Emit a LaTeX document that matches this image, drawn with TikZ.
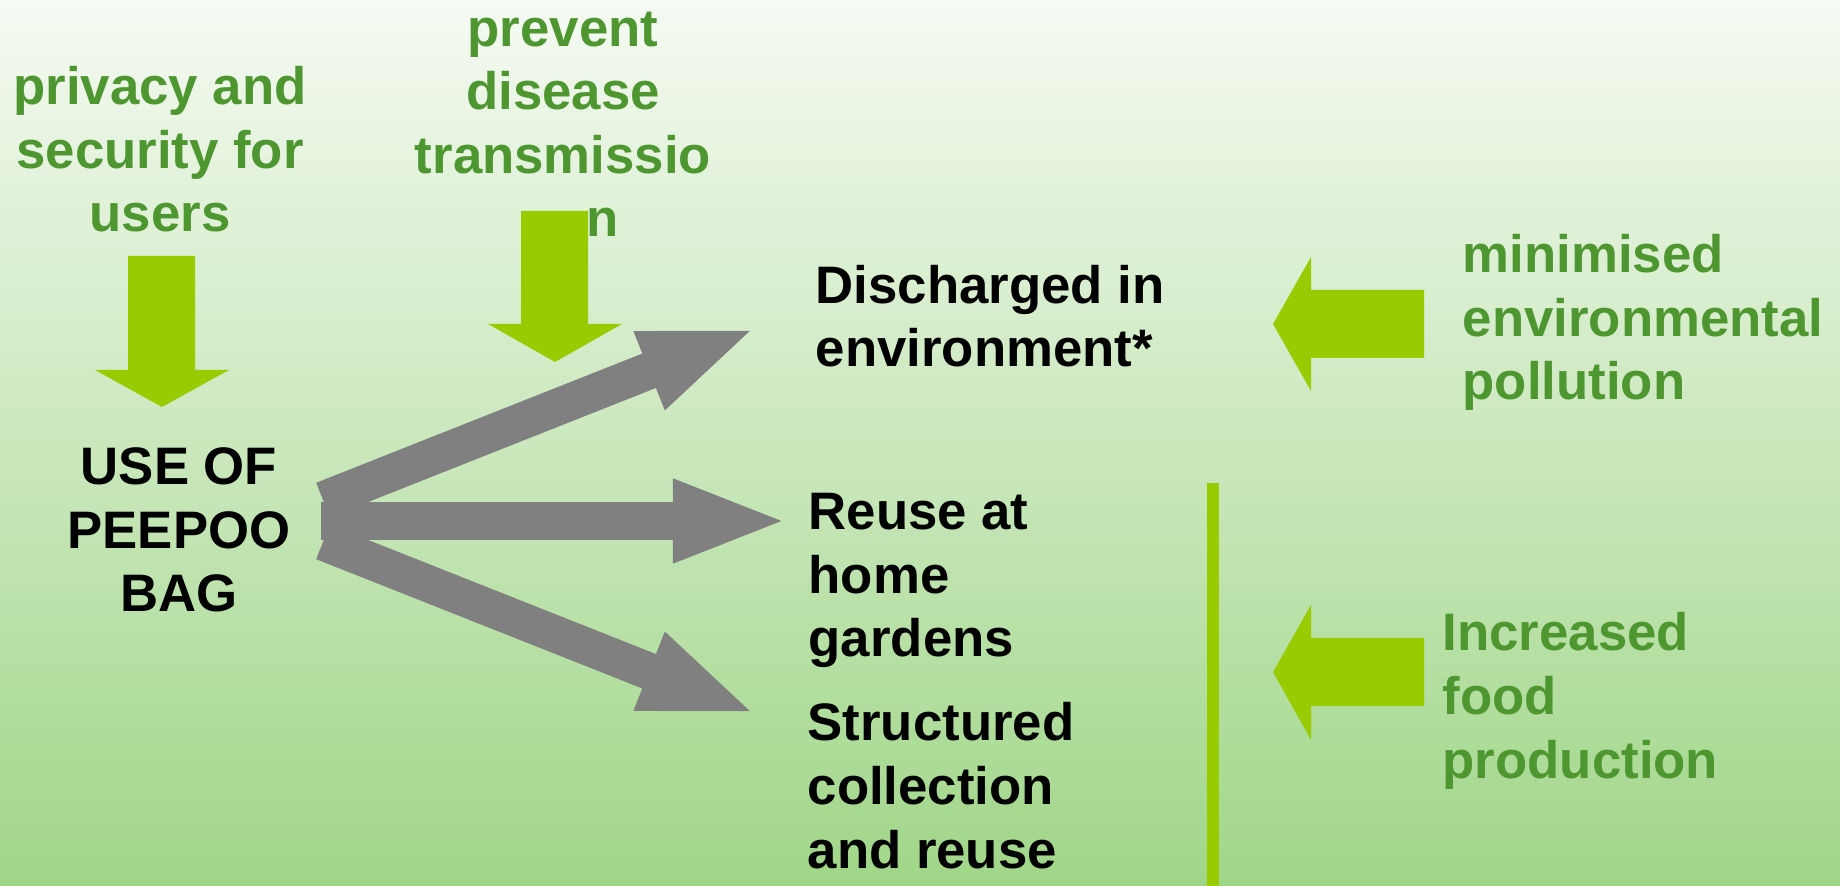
\documentclass[tikz,border=0pt]{standalone}
\usepackage{fontspec}
\setmainfont{Liberation Sans}
\usetikzlibrary{arrows.meta}
\definecolor{leafgreen}{RGB}{78,150,48}
\definecolor{limegreen}{RGB}{153,204,0}
\definecolor{bgpale}{RGB}{245,250,242}
\definecolor{bggreen}{RGB}{160,214,136}
\tikzset{
  txt/.style={inner sep=0pt, font=\bfseries\fontsize{15}{18.1}\selectfont},
  goal/.style={txt, text=leafgreen},
  flow/.style={line width=0.37cm, draw=gray, line cap=butt, -{Triangle[length=1.16cm,width=0.75cm]}},
  fatarrow/.style={fill=limegreen}
}
\begin{document}
\begin{tikzpicture}[x=0.01cm,y=-0.01cm,line join=miter]
\shade[top color=bgpale, bottom color=bggreen] (0,0) rectangle (1840,886);
\useasboundingbox (0,0) rectangle (1840,886);

% texts (anchored on the baseline of the last line)
\node[goal, anchor=base, align=center] (privacy) at (160,232) {privacy and\\security for\\users};
\node[goal, anchor=base, align=center] (prevent) at (563,237) {prevent\\disease\\transmissio\\\hspace*{1.5em}n};
\node[txt, anchor=base, align=center] (use) at (179,612) {USE OF\\PEEPOO\\BAG};
\node[txt, anchor=base west, align=left] (discharged) at (815,367) {Discharged in\\environment*};
\node[txt, anchor=base west, align=left] (reuse) at (808,657) {Reuse at\\home\\gardens};
\node[txt, anchor=base west, align=left] (structured) at (807,868) {Structured\\collection\\and reuse};
\node[goal, anchor=base west, align=left] (minimised) at (1462,400) {minimised\\environmental\\pollution};
\node[goal, anchor=base west, align=left] (increased) at (1442,778) {Increased\\food\\production};

% green block arrows
\fill[fatarrow] (128,256) -- (195,256) -- (195,370) -- (229,370) -- (162,407) -- (95,370) -- (128,370) -- cycle;
\fill[fatarrow] (521,211) -- (588,211) -- (588,324) -- (622,324) -- (555,362) -- (488,324) -- (521,324) -- cycle;
\fill[fatarrow] (1424,290) -- (1424,358) -- (1311,358) -- (1311,391) -- (1273,324) -- (1311,257) -- (1311,290) -- cycle;
\fill[fatarrow] (1424,638) -- (1424,706) -- (1311,706) -- (1311,740) -- (1273,672) -- (1311,605) -- (1311,638) -- cycle;
\draw[limegreen, line width=0.12cm] (1213,483) -- (1213,886);

% grey flows out of the bag
\coordinate (useout1) at (323,500);
\coordinate (useout2) at (321,521);
\coordinate (useout3) at (323,542);
\coordinate (dischargedin) at (757,328);
\coordinate (reusein) at (789,521);
\coordinate (structuredin) at (757,714);
\draw[flow] (useout1) -- (dischargedin);
\draw[flow] (useout2) -- (reusein);
\draw[flow] (useout3) -- (structuredin);
\end{tikzpicture}
\end{document}
